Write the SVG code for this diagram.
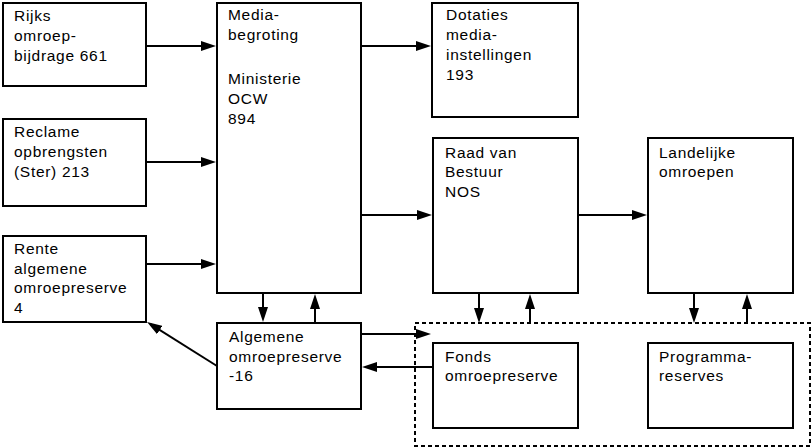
<svg xmlns="http://www.w3.org/2000/svg" width="812" height="448" viewBox="0 0 812 448">
<style>
.box{fill:#fff;stroke:#000;stroke-width:2}
.dash{fill:none;stroke:#000;stroke-width:2;stroke-dasharray:4 3}
.t{font-family:"Liberation Sans",Arial,sans-serif;font-size:15.5px;letter-spacing:0.7px;fill:#000}
.c line{stroke:#000;stroke-width:2;marker-end:url(#ah)}
</style>
<defs>
<marker id="ah" markerUnits="userSpaceOnUse" markerWidth="15" markerHeight="11" refX="11" refY="5" orient="auto" viewBox="0 0 15 10">
<path d="M0,0 L15,5 L0,10 z" fill="#000"/>
</marker>
</defs>
<rect x="0" y="0" width="812" height="448" fill="#fff"/>
<g id="fondsgroep"><rect class="dash" x="415" y="323" width="395" height="123"/></g>
<g id="rijks"><rect class="box" x="3" y="3" width="143" height="83"/>
<text class="t" x="14" y="21">Rijks</text><text class="t" x="14" y="41">omroep-</text><text class="t" x="14" y="61">bijdrage 661</text></g>
<g id="reclame"><rect class="box" x="3" y="119" width="143" height="87"/>
<text class="t" x="14" y="137">Reclame</text><text class="t" x="14" y="157">opbrengsten</text><text class="t" x="14" y="177">(Ster) 213</text></g>
<g id="rente"><rect class="box" x="3" y="236" width="143" height="86"/>
<text class="t" x="14" y="254">Rente</text><text class="t" x="14" y="273.5">algemene</text><text class="t" x="14" y="293">omroepreserve</text><text class="t" x="14" y="312.5">4</text></g>
<g id="media"><rect class="box" x="217" y="3" width="144" height="290"/>
<text class="t" x="228" y="20">Media-</text><text class="t" x="228" y="40">begroting</text><text class="t" x="228" y="84">Ministerie</text><text class="t" x="228" y="104">OCW</text><text class="t" x="228" y="123.5">894</text></g>
<g id="algemene"><rect class="box" x="217" y="323" width="144" height="86"/>
<text class="t" x="229" y="342">Algemene</text><text class="t" x="229" y="361.5">omroepreserve</text><text class="t" x="229" y="381">-16</text></g>
<g id="dotaties"><rect class="box" x="432" y="3" width="146" height="114"/>
<text class="t" x="446" y="20">Dotaties</text><text class="t" x="446" y="40">media-</text><text class="t" x="446" y="60">instellingen</text><text class="t" x="446" y="80">193</text></g>
<g id="raad"><rect class="box" x="433" y="138" width="145" height="155"/>
<text class="t" x="445" y="157.5">Raad van</text><text class="t" x="445" y="177">Bestuur</text><text class="t" x="445" y="196.5">NOS</text></g>
<g id="landelijke"><rect class="box" x="648" y="138" width="145" height="155"/>
<text class="t" x="659" y="157.5">Landelijke</text><text class="t" x="659" y="177">omroepen</text></g>
<g id="fonds"><rect class="box" x="433" y="343" width="145" height="85"/>
<text class="t" x="445" y="362">Fonds</text><text class="t" x="445" y="381">omroepreserve</text></g>
<g id="programma"><rect class="box" x="648" y="343" width="145" height="85"/>
<text class="t" x="659" y="362">Programma-</text><text class="t" x="659" y="381">reserves</text></g>
<g id="connectors" class="c">
<line x1="147" y1="46" x2="212" y2="46"/>
<line x1="147" y1="162" x2="212" y2="162"/>
<line x1="147" y1="264" x2="212" y2="264"/>
<line x1="362" y1="46" x2="427" y2="46"/>
<line x1="362" y1="215" x2="428" y2="215"/>
<line x1="579" y1="215" x2="643" y2="215"/>
<line x1="263" y1="294" x2="263" y2="318"/>
<line x1="315" y1="322" x2="315" y2="298"/>
<line x1="479" y1="294" x2="479" y2="319"/>
<line x1="530" y1="323" x2="530" y2="298"/>
<line x1="694" y1="294" x2="694" y2="319"/>
<line x1="747" y1="323" x2="747" y2="298"/>
<line x1="362" y1="334" x2="427" y2="334"/>
<line x1="432" y1="367" x2="366" y2="367"/>
<line x1="217" y1="366" x2="150.4" y2="324.1"/>
</g>
</svg>
